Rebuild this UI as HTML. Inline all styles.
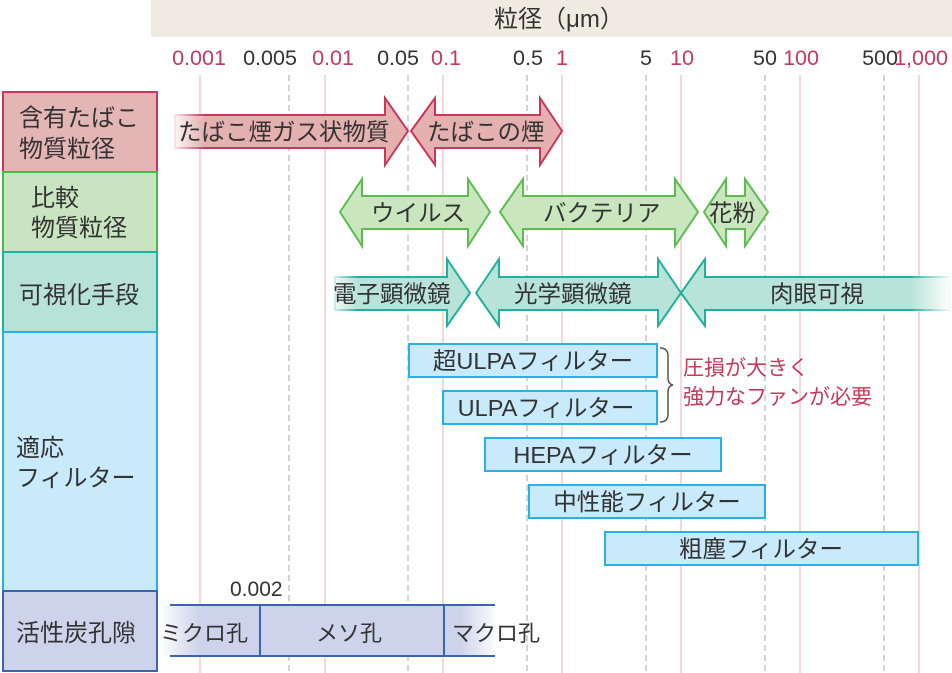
<!DOCTYPE html>
<html><head><meta charset="utf-8"><style>
html,body{margin:0;padding:0;background:#fff;}
svg{display:block;}
text{font-family:"Liberation Sans","Noto Sans CJK JP",sans-serif;fill:#333;}
</style></head><body>
<svg width="952" height="673" viewBox="0 0 952 673" xmlns="http://www.w3.org/2000/svg">
<defs>
<linearGradient id="fl" x1="0" x2="1"><stop offset="0" stop-color="#fff" stop-opacity="1"/><stop offset="1" stop-color="#fff" stop-opacity="0"/></linearGradient>
<linearGradient id="fr" x1="0" x2="1"><stop offset="0" stop-color="#fff" stop-opacity="0"/><stop offset="1" stop-color="#fff" stop-opacity="1"/></linearGradient>
</defs>
<rect x="151" y="0" width="801" height="37" fill="#f0ebe0"/>
<text x="494" y="27" font-size="24">粒径（μm）</text>
<g font-size="21.5" text-anchor="middle">
<text x="199" y="65" style="fill:#c8385a">0.001</text>
<text x="270" y="65">0.005</text>
<text x="333" y="65" style="fill:#c8385a">0.01</text>
<text x="398" y="65">0.05</text>
<text x="446" y="65" style="fill:#c8385a">0.1</text>
<text x="528" y="65">0.5</text>
<text x="562" y="65" style="fill:#c8385a">1</text>
<text x="646" y="65">5</text>
<text x="682" y="65" style="fill:#c8385a">10</text>
<text x="765" y="65">50</text>
<text x="801" y="65" style="fill:#c8385a">100</text>
<text x="880" y="65">500</text>
<text x="921" y="65" style="fill:#c8385a">1,000</text>
</g>
<g stroke-width="1">
<line x1="200" y1="75" x2="200" y2="673" stroke="#e8b0b0"/>
<line x1="289" y1="75" x2="289" y2="673" stroke="#aaa" stroke-dasharray="6,4"/>
<line x1="325" y1="75" x2="325" y2="673" stroke="#e8b0b0"/>
<line x1="408" y1="75" x2="408" y2="673" stroke="#aaa" stroke-dasharray="6,4"/>
<line x1="443" y1="75" x2="443" y2="673" stroke="#e8b0b0"/>
<line x1="527" y1="75" x2="527" y2="673" stroke="#aaa" stroke-dasharray="6,4"/>
<line x1="562" y1="75" x2="562" y2="673" stroke="#e8b0b0"/>
<line x1="646" y1="75" x2="646" y2="673" stroke="#aaa" stroke-dasharray="6,4"/>
<line x1="681" y1="75" x2="681" y2="673" stroke="#e8b0b0"/>
<line x1="765" y1="75" x2="765" y2="673" stroke="#aaa" stroke-dasharray="6,4"/>
<line x1="800" y1="75" x2="800" y2="673" stroke="#e8b0b0"/>
<line x1="884" y1="75" x2="884" y2="673" stroke="#aaa" stroke-dasharray="6,4"/>
<line x1="919" y1="75" x2="919" y2="673" stroke="#e8b0b0"/>
</g>
<rect x="3" y="92" width="154" height="80" fill="#e4b5b5" stroke="#c8385a" stroke-width="2"/>
<rect x="3" y="172" width="154" height="80" fill="#c9e4c0" stroke="#4cb84c" stroke-width="2"/>
<rect x="3" y="252" width="154" height="80" fill="#b7e2d8" stroke="#1fb0a0" stroke-width="2"/>
<rect x="3" y="332" width="154" height="259" fill="#c8eafa" stroke="#29b0e8" stroke-width="2"/>
<rect x="3" y="591" width="154" height="80" fill="#cdd3ea" stroke="#3a64b0" stroke-width="2"/>
<g font-size="24">
<text x="19" y="126">含有たばこ</text><text x="19" y="157">物質粒径</text>
<text x="31" y="206">比較</text><text x="31" y="236">物質粒径</text>
<text x="19" y="303">可視化手段</text>
<text x="16" y="456">適応</text><text x="16" y="486">フィルター</text>
<text x="16" y="641">活性炭孔隙</text>
</g>
<polygon points="175,115 385,115 385,98 408,131 385,165 385,148 175,148" fill="#e4b0b0" stroke="#c8385a" stroke-width="2"/>
<rect x="170" y="113" width="35" height="37" fill="url(#fl)"/>
<polygon points="411,131 435,98 435,115 540,115 540,98 562,131 540,165 540,148 435,148 435,165" fill="#e4b0b0" stroke="#c8385a" stroke-width="2"/>
<g font-size="23.5">
<text x="178" y="140">たばこ煙ガス状物質</text>
<text x="427" y="140">たばこの煙</text>
</g>
<g fill="#c9e6bf" stroke="#5cbc50" stroke-width="2">
<polygon points="340,212 362,179 362,196 468,196 468,179 490,212 468,246 468,229 362,229 362,246"/>
<polygon points="500,212 523,179 523,196 675,196 675,179 698,212 675,246 675,229 523,229 523,246"/>
<polygon points="704,212 726,179 726,196 745,196 745,179 768,212 745,246 745,229 726,229 726,246"/>
</g>
<g font-size="23.5">
<text x="371" y="221">ウイルス</text>
<text x="543" y="221">バクテリア</text>
<text x="709" y="221">花粉</text>
</g>
<g fill="#b8e3d9" stroke="#20b09c" stroke-width="2">
<polygon points="335,277 447,277 447,259 470,293 447,326 447,310 335,310"/>
<polygon points="476,293 499,259 499,277 658,277 658,259 681,293 658,326 658,310 499,310 499,326"/>
<polygon points="681,293 705,259 705,277 950,277 950,310 705,310 705,326"/>
</g>
<rect x="328" y="275" width="30" height="37" fill="url(#fl)"/>
<rect x="910" y="275" width="42" height="37" fill="url(#fr)"/>
<g font-size="23.5">
<text x="333" y="302">電子顕微鏡</text>
<text x="514" y="302">光学顕微鏡</text>
<text x="770" y="302">肉眼可視</text>
</g>
<g fill="#c8eafa" stroke="#29b0e8" stroke-width="2">
<rect x="409" y="344" width="248" height="33"/>
<rect x="443" y="391" width="214" height="33"/>
<rect x="485" y="438" width="236" height="33"/>
<rect x="529" y="485" width="236" height="33"/>
<rect x="605" y="532" width="313" height="33"/>
</g>
<g font-size="23.5" text-anchor="middle">
<text x="533" y="369">超ULPAフィルター</text>
<text x="546" y="416">ULPAフィルター</text>
<text x="603" y="463">HEPAフィルター</text>
<text x="647" y="510">中性能フィルター</text>
<text x="761" y="557">粗塵フィルター</text>
</g>
<path d="M660,348 Q668,348 668,356 L668,378 Q668,384 673,385 Q668,386 668,392 L668,414 Q668,422 660,422" fill="none" stroke="#555" stroke-width="1.5"/>
<g font-size="21">
<text x="683" y="375" style="fill:#c8385a">圧損が大きく</text>
<text x="683" y="404" style="fill:#c8385a">強力なファンが必要</text>
</g>
<text x="230" y="596" font-size="21">0.002</text>
<rect x="160" y="606" width="335" height="50" fill="#cdd3ea"/>
<rect x="159" y="604" width="40" height="54" fill="url(#fl)"/>
<rect x="460" y="604" width="38" height="54" fill="url(#fr)"/>
<line x1="170" y1="605" x2="495" y2="605" stroke="#3a64b0" stroke-width="2"/>
<line x1="170" y1="656" x2="495" y2="656" stroke="#3a64b0" stroke-width="2"/>
<line x1="260" y1="605" x2="260" y2="656" stroke="#3a64b0" stroke-width="2"/>
<line x1="444" y1="605" x2="444" y2="656" stroke="#3a64b0" stroke-width="2"/>
<g font-size="22">
<text x="160" y="641">ミクロ孔</text>
<text x="316" y="641">メソ孔</text>
<text x="452" y="641">マクロ孔</text>
</g>
</svg>
</body></html>
